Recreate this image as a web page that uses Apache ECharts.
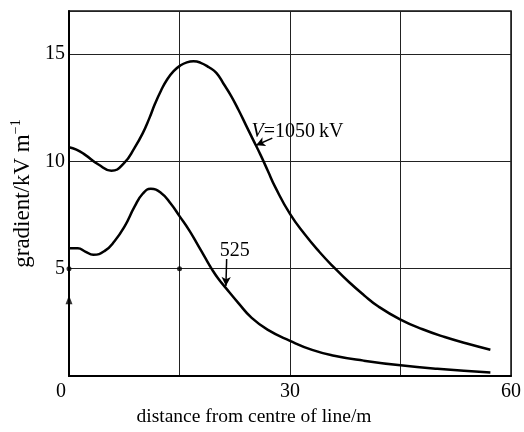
<!DOCTYPE html>
<html>
<head>
<meta charset="utf-8">
<script src="https://cdn.jsdelivr.net/npm/echarts@6/dist/echarts.min.js"></script>
<style>
  html, body { margin: 0; padding: 0; background: #fff; }
  #chart { width: 524px; height: 432px; }
</style>
</head>
<body>
<div id="chart"></div>
<script>
// Surface gradient across the line corridor for two line voltages
const xTicks = [0, 15, 30, 45, 60];
const yTicks = [0, 5, 10, 15];

const dist1050 = [0, 1, 2.2, 4, 5.75, 7.5, 8.9, 10, 10.9, 11.7, 12.5, 13.3, 14.2, 15.1, 16, 16.9, 17.8, 19, 20, 21, 22, 23, 24, 25, 26, 27, 28, 30, 32, 34, 36, 38, 40, 42, 45, 48, 51, 54, 57.2];
const grad1050 = [10.66, 10.55, 10.3, 9.85, 9.56, 9.93, 10.63, 11.3, 12.0, 12.7, 13.3, 13.8, 14.2, 14.46, 14.61, 14.66, 14.6, 14.38, 14.12, 13.6, 13.05, 12.4, 11.7, 11.0, 10.3, 9.55, 8.8, 7.55, 6.6, 5.78, 5.05, 4.38, 3.78, 3.24, 2.63, 2.18, 1.82, 1.52, 1.23];

const dist525 = [0, 1.2, 2.2, 3.3, 4.85, 6.2, 7.55, 8.9, 10, 11.1, 12.5, 13.8, 15, 16.3, 17.5, 18.5, 19.45, 20.3, 21.25, 23, 24.8, 27, 30, 33, 36, 40, 45, 50, 57.2];
const grad525 = [5.95, 5.95, 5.8, 5.65, 5.83, 6.29, 6.97, 7.89, 8.49, 8.72, 8.53, 8.04, 7.45, 6.8, 6.1, 5.5, 4.95, 4.52, 4.12, 3.4, 2.71, 2.15, 1.64, 1.22, 0.95, 0.72, 0.5, 0.34, 0.17];

// Small reference marks on the axes
const axisDots = [[0, 5], [15, 5]];
const axisArrow = [[0, 3.55]];

// Curve annotations: label anchor, arrow start, arrow tip
const label1050 = { text: '{i|V}=1050\u2009kV', at: [24.7, 11.4], from: [27.6, 11.08], to: [25.4, 10.75] };
const label525 = { text: '525', at: [22.5, 5.85], from: [21.4, 5.45], to: [21.3, 4.2] };

const FONT = "'Liberation Serif', 'DejaVu Serif', serif";

function pairs(xs, ys) { return xs.map((x, i) => [x, ys[i]]); }

function annotation(a, pos) {
  return {
    markLine: {
      silent: true,
      animation: false,
      label: { show: false },
      lineStyle: { color: '#000', width: 1.5, type: 'solid' },
      data: [[
        { coord: a.from, symbol: 'none' },
        { coord: a.to, symbol: 'arrow', symbolSize: [7, 9] }
      ]]
    },
    markPoint: {
      silent: true,
      animation: false,
      symbol: 'circle',
      symbolSize: 1,
      itemStyle: { color: 'rgba(0,0,0,0)' },
      label: {
        show: true,
        position: pos,
        distance: 0,
        formatter: a.text,
        color: '#000',
        fontFamily: FONT,
        fontSize: 20,
        rich: { i: { fontStyle: 'italic', fontFamily: FONT, fontSize: 20, color: '#000' } }
      },
      data: [{ coord: a.at }]
    }
  };
}

const chart = echarts.init(document.getElementById('chart'), null, { renderer: 'canvas' });

chart.setOption({
  animation: false,
  backgroundColor: '#fff',
  grid: { left: 69, right: 10, top: 11, bottom: 49, show: true, borderColor: '#111', borderWidth: 1.5, backgroundColor: 'transparent' },
  xAxis: {
    type: 'value',
    min: xTicks[0],
    max: xTicks[xTicks.length - 1],
    interval: 15,
    axisLine: { show: true, lineStyle: { color: '#000', width: 2 } },
    axisTick: { show: false },
    splitLine: { show: true, lineStyle: { color: '#222', width: 1 } },
    axisLabel: {
      margin: 6,
      color: '#000',
      fontFamily: FONT,
      fontSize: 20,
      formatter: v => v === 0 ? '{z|0}' : (v % 30 === 0 ? String(v) : ''),
      rich: { z: { padding: [0, 16, 0, 0], fontFamily: FONT, fontSize: 20, color: '#000' } }
    },
    name: 'distance from centre of line/m',
    nameLocation: 'middle',
    nameGap: 28,
    nameTextStyle: { color: '#000', fontFamily: FONT, fontSize: 19.5, padding: [0, 72, 0, 0] }
  },
  yAxis: {
    type: 'value',
    min: yTicks[0],
    max: 17,
    interval: 5,
    axisLine: { show: true, lineStyle: { color: '#000', width: 2 } },
    axisTick: { show: false },
    splitLine: { show: true, lineStyle: { color: '#222', width: 1 } },
    axisLabel: {
      margin: 4,
      color: '#000',
      fontFamily: FONT,
      fontSize: 20,
      showMinLabel: false,
      showMaxLabel: false,
      formatter: v => (yTicks.includes(v) && v !== 0) ? String(v) : ''
    },
    name: 'gradient/kV m{sup|\u22121}',
    nameLocation: 'middle',
    nameRotate: 90,
    nameGap: 31,
    nameTextStyle: {
      color: '#000',
      fontFamily: FONT,
      fontSize: 23,
      rich: { sup: { fontFamily: FONT, fontSize: 14, color: '#000', verticalAlign: 'top', padding: [0, 0, 12, 0] } }
    }
  },
  series: [
    Object.assign({
      name: '1050 kV',
      type: 'line',
      data: pairs(dist1050, grad1050),
      smooth: 0.5,
      showSymbol: false,
      lineStyle: { color: '#000', width: 2.5 },
      itemStyle: { color: '#000' },
      emphasis: { disabled: true },
      z: 3
    }, annotation(label1050, 'right')),
    Object.assign({
      name: '525 kV',
      type: 'line',
      data: pairs(dist525, grad525),
      smooth: 0.5,
      showSymbol: false,
      lineStyle: { color: '#000', width: 2.5 },
      itemStyle: { color: '#000' },
      emphasis: { disabled: true },
      z: 3
    }, annotation(label525, 'inside')),
    {
      type: 'scatter',
      data: axisDots,
      symbol: 'circle',
      symbolSize: 5,
      itemStyle: { color: '#000' },
      silent: true,
      z: 4
    },
    {
      type: 'scatter',
      data: axisArrow,
      symbol: 'triangle',
      symbolSize: [7, 9],
      itemStyle: { color: '#000' },
      silent: true,
      z: 4
    }
  ]
});
</script>
</body>
</html>
